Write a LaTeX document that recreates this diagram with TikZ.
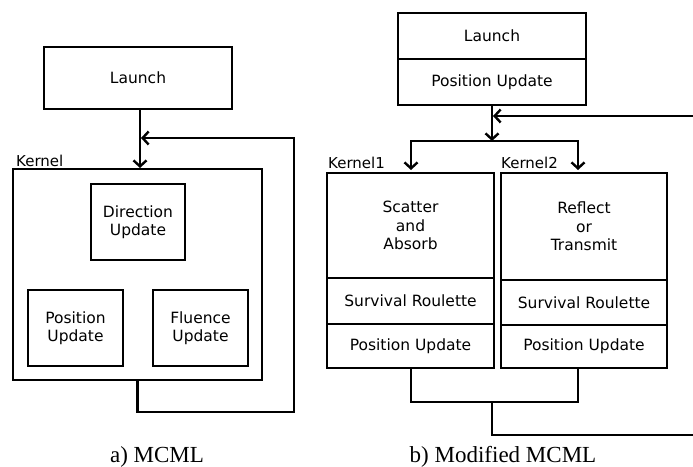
\documentclass[tikz,border=0pt]{standalone}
\usepackage{fontspec}
\setmainfont{Liberation Serif}
\newfontfamily\boxfont{DejaVu Sans}
\usetikzlibrary{arrows.meta}
\tikzset{
  x=1pt, y=-1pt,
  blk/.style={draw, line width=1.5pt, align=center, inner sep=0pt, outer sep=0pt,
    font=\boxfont\fontsize{15.5}{18.5}\selectfont},
  lbl/.style={anchor=base west, inner sep=0pt, font=\boxfont\fontsize{15}{18}\selectfont},
  conn/.style={line width=2.4pt},
  arr/.style={line width=2.4pt, -{Straight Barb[length=6pt,width=13pt,line width=2.4pt]}},
  captxt/.style={anchor=base, inner sep=0pt, font=\fontsize{23}{26}\selectfont}
}
\begin{document}
\begin{tikzpicture}
\useasboundingbox (0,0) rectangle (693,466);
% ---------- a) MCML ----------
\node[blk, minimum width=188pt, minimum height=62pt] (launchA) at (138,78) {Launch};
\node[blk, minimum width=249pt, minimum height=211pt] (kernelA) at (137.5,274.5) {};
\node[lbl] (kA) at (16,166) {Kernel};
\node[blk, minimum width=94pt, minimum height=76pt] (dirA) at (138,222) {Direction\\Update};
\node[blk, minimum width=95pt, minimum height=76pt] (posA) at (75.5,328) {Position\\Update};
\node[blk, minimum width=95pt, minimum height=76pt] (fluA) at (200.5,328) {Fluence\\Update};
\coordinate (inA) at (140,168);
\coordinate (retA) at (294,412);
\coordinate (joinA) at (141,138);
\draw[arr] (launchA.south -| inA) -- (inA);
\draw[arr] (kernelA.south) |- (retA) |- (joinA);
\node[captxt] (capA) at (157,462) {a) MCML};
% ---------- b) Modified MCML ----------
\node[blk, minimum width=188pt, minimum height=46pt] (launchB) at (492,36) {Launch};
\node[blk, minimum width=188pt, minimum height=46pt] (posB) at (492,82) {Position Update};
\node[blk, minimum width=167pt, minimum height=105pt] (k1main) at (410.5,225.5) {Scatter\\and\\Absorb};
\node[blk, minimum width=167pt, minimum height=46pt] (k1sr) at (410.5,301) {Survival Roulette};
\node[blk, minimum width=167pt, minimum height=44pt] (k1pu) at (410.5,346) {Position Update};
\node[blk, minimum width=166pt, minimum height=107pt] (k2main) at (584,226.5) {Reflect\\or\\Transmit};
\node[blk, minimum width=166pt, minimum height=45pt] (k2sr) at (584,302.5) {Survival Roulette};
\node[blk, minimum width=166pt, minimum height=43pt] (k2pu) at (584,346.5) {Position Update};
\node[lbl] (k1l) at (328,168) {Kernel1};
\node[lbl] (k2l) at (501,168) {Kernel2};
\coordinate (split) at (492,141);
\coordinate (k1in) at (411,170);
\coordinate (k2in) at (578,170);
\coordinate (k2out) at (578,368);
\coordinate (mrg) at (492,402);
\coordinate (exitB) at (693,435);
\coordinate (entB) at (693,116);
\coordinate (joinB) at (493,116);
\draw[arr] (posB.south) -- (split);
\draw[arr] (split) -| (k1in);
\draw[arr] (split) -| (k2in);
\draw[conn] (k1pu.south -| k1in) |- (mrg) -| (k2out);
\draw[conn] (mrg) |- (exitB);
\draw[arr] (entB) -- (joinB);
\node[captxt] (capB) at (503,462) {b) Modified MCML};
\end{tikzpicture}
\end{document}
